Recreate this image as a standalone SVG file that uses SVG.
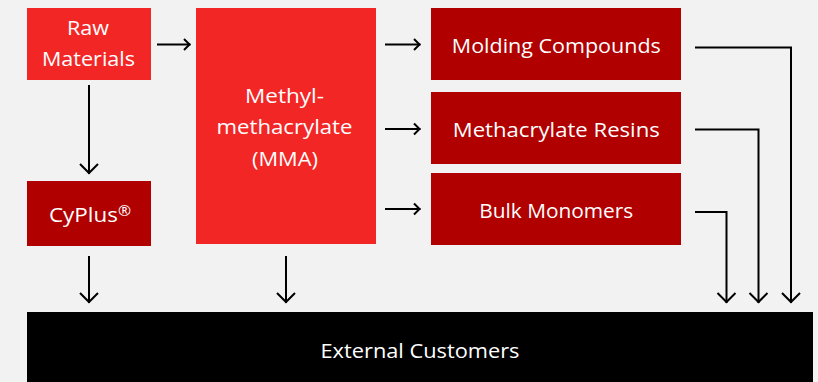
<svg xmlns="http://www.w3.org/2000/svg" width="818" height="382" viewBox="0 0 818 382">
  <defs>
    <style>
      .bright { fill: #f32626; }
      .dark { fill: #b10000; }
      .base { fill: #000000; }
      .label { font-family: "Open Sans", "Liberation Sans", sans-serif; font-size: 20px; fill: #ffffff; text-anchor: middle; }
      .wire { fill: none; stroke: #000000; stroke-width: 2; }
      .head { fill: none; stroke: #000000; stroke-width: 2; stroke-linejoin: miter; }
    </style>
    <marker id="head-lg" markerUnits="userSpaceOnUse" viewBox="-12 -11 14 22" refX="0" refY="0" markerWidth="14" markerHeight="22" orient="auto" overflow="visible">
      <path class="head" d="M-10,-9 L-1,0 L-10,9"/>
    </marker>
    <marker id="head-sm" markerUnits="userSpaceOnUse" viewBox="-8 -7 10 14" refX="0" refY="0" markerWidth="10" markerHeight="14" orient="auto" overflow="visible">
      <path class="head" d="M-6.5,-5.5 L-1,0 L-6.5,5.5"/>
    </marker>
  </defs>

  <!-- page background -->
  <rect x="0" y="0" width="818" height="382" fill="#f2f2f2"/>

  <g id="raw-materials">
    <rect class="bright" x="27" y="8" width="124" height="72"/>
    <text class="label" x="88" y="34.5" textLength="42" lengthAdjust="spacingAndGlyphs">Raw</text>
    <text class="label" x="88.5" y="66" textLength="93" lengthAdjust="spacingAndGlyphs">Materials</text>
  </g>

  <g id="cyplus">
    <rect class="dark" x="27" y="181" width="124" height="65"/>
    <text class="label" x="90" y="222" textLength="82" lengthAdjust="spacingAndGlyphs">CyPlus<tspan font-size="14" dy="-6">®</tspan></text>
  </g>

  <g id="mma">
    <rect class="bright" x="196" y="8" width="180" height="236"/>
    <text class="label" x="284.5" y="102.5" textLength="79" lengthAdjust="spacingAndGlyphs">Methyl-</text>
    <text class="label" x="284.5" y="134" textLength="136" lengthAdjust="spacingAndGlyphs">methacrylate</text>
    <text class="label" x="285" y="165.7" textLength="66" lengthAdjust="spacingAndGlyphs">(MMA)</text>
  </g>

  <g id="molding-compounds">
    <rect class="dark" x="431" y="8" width="250" height="72"/>
    <text class="label" x="556.3" y="53.3" textLength="209" lengthAdjust="spacingAndGlyphs">Molding Compounds</text>
  </g>

  <g id="methacrylate-resins">
    <rect class="dark" x="431" y="92" width="250" height="72"/>
    <text class="label" x="556.3" y="137.3" textLength="207" lengthAdjust="spacingAndGlyphs">Methacrylate Resins</text>
  </g>

  <g id="bulk-monomers">
    <rect class="dark" x="431" y="173" width="250" height="72"/>
    <text class="label" x="556.3" y="218.3" textLength="154" lengthAdjust="spacingAndGlyphs">Bulk Monomers</text>
  </g>

  <g id="external-customers">
    <rect class="base" x="27" y="312" width="786" height="70"/>
    <text class="label" x="420" y="357.5" textLength="199" lengthAdjust="spacingAndGlyphs">External Customers</text>
  </g>

  <g id="connectors">
    <path class="wire" d="M157,44.5 H190.5" marker-end="url(#head-sm)"/>
    <path class="wire" d="M385,44.5 H420.5" marker-end="url(#head-sm)"/>
    <path class="wire" d="M385,129 H420.5" marker-end="url(#head-sm)"/>
    <path class="wire" d="M385,209 H420.5" marker-end="url(#head-sm)"/>
    <path class="wire" d="M89,85 V174" marker-end="url(#head-lg)"/>
    <path class="wire" d="M89,256 V303" marker-end="url(#head-lg)"/>
    <path class="wire" d="M286,256 V303" marker-end="url(#head-lg)"/>
    <path class="wire" d="M695,47.5 H791 V303" marker-end="url(#head-lg)"/>
    <path class="wire" d="M695,129.5 H758.5 V303" marker-end="url(#head-lg)"/>
    <path class="wire" d="M695,212 H726.5 V303" marker-end="url(#head-lg)"/>
  </g>
</svg>
